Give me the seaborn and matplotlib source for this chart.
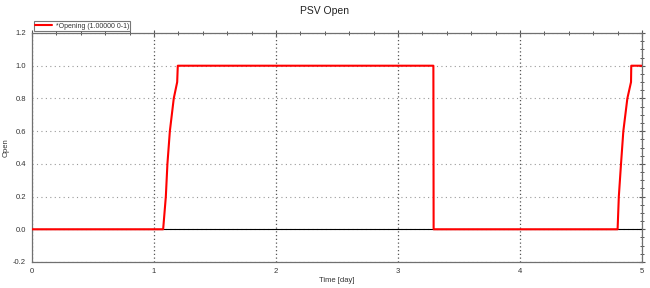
import matplotlib
matplotlib.use("Agg")
import matplotlib.pyplot as plt
from matplotlib.ticker import MultipleLocator, FormatStrFormatter
import seaborn as sns
import pandas as pd

sns.set_style("white")
plt.rcParams['font.family'] = ['Liberation Sans', 'DejaVu Sans']

time_day = [0.0, 1.075, 1.097, 1.11, 1.13, 1.162, 1.19, 1.195, 3.29, 3.292,
            4.80, 4.81, 4.828, 4.847, 4.88, 4.91, 4.912, 5.0]
opening = [0.0, 0.0, 0.2, 0.4, 0.6, 0.8, 0.9, 1.0, 1.0, 0.0,
           0.0, 0.2, 0.4, 0.6, 0.8, 0.9, 1.0, 1.0]
series_label = "*Opening (1.00000 0-1)"

df = pd.DataFrame({"Time [day]": time_day, "Open": opening})

fig = plt.figure(figsize=(6.5, 2.88), dpi=100)
ax = fig.add_axes([32/650, 1-262/288, (642-32)/650, (262-33)/288])

ax.axhline(0, color="black", lw=0.8, zorder=1)
sns.lineplot(data=df, x="Time [day]", y="Open", color="#ff0000", lw=1.5,
             label=series_label, ax=ax, zorder=3)

ax.set_xlim(0, 5)
ax.set_ylim(-0.2, 1.2)
ax.xaxis.set_major_locator(MultipleLocator(1))
ax.xaxis.set_minor_locator(MultipleLocator(0.2))
ax.yaxis.set_major_locator(MultipleLocator(0.2))
ax.yaxis.set_minor_locator(MultipleLocator(0.05))
ax.xaxis.set_major_formatter(FormatStrFormatter("%d"))
ax.yaxis.set_major_formatter(FormatStrFormatter("%.1f"))

ax.grid(True, axis="y", which="major", linestyle=(0, (1, 3)), color="#999999", lw=0.8)
ax.grid(True, axis="x", which="major", linestyle=(0, (1, 2)), color="#555555", lw=0.9)

for s in ax.spines.values():
    s.set_color("#707070")
    s.set_linewidth(0.9)
ax.tick_params(axis="both", which="both", direction="inout", colors="#555555",
               labelcolor="#333333", labelsize=5.5, top=True, right=True)
ax.tick_params(which="major", length=5, width=0.8, pad=2)
ax.tick_params(which="minor", length=3, width=0.7)

ax.set_xlabel("Time [day]", fontsize=5.5, color="#333333")
ax.set_ylabel("Open", fontsize=5.5, color="#333333")
ax.xaxis.set_label_coords(0.5, (262-277)/229)
ax.yaxis.set_label_coords((10-32)/610, 0.5)
fig.text(0.5, 1-11/288, "PSV Open", ha="center", va="center", fontsize=7.5, color="#222222")

leg = ax.legend(loc="lower left", bbox_to_anchor=(0, 1.0), fontsize=5, frameon=True,
                fancybox=False, borderpad=0.2, handlelength=2.4, borderaxespad=0.3,
                handletextpad=0.5)
leg.get_frame().set_edgecolor("#555555")
leg.get_frame().set_linewidth(0.8)
for t in leg.get_texts():
    t.set_color("#333333")

fig.savefig("out.png", dpi=100)
